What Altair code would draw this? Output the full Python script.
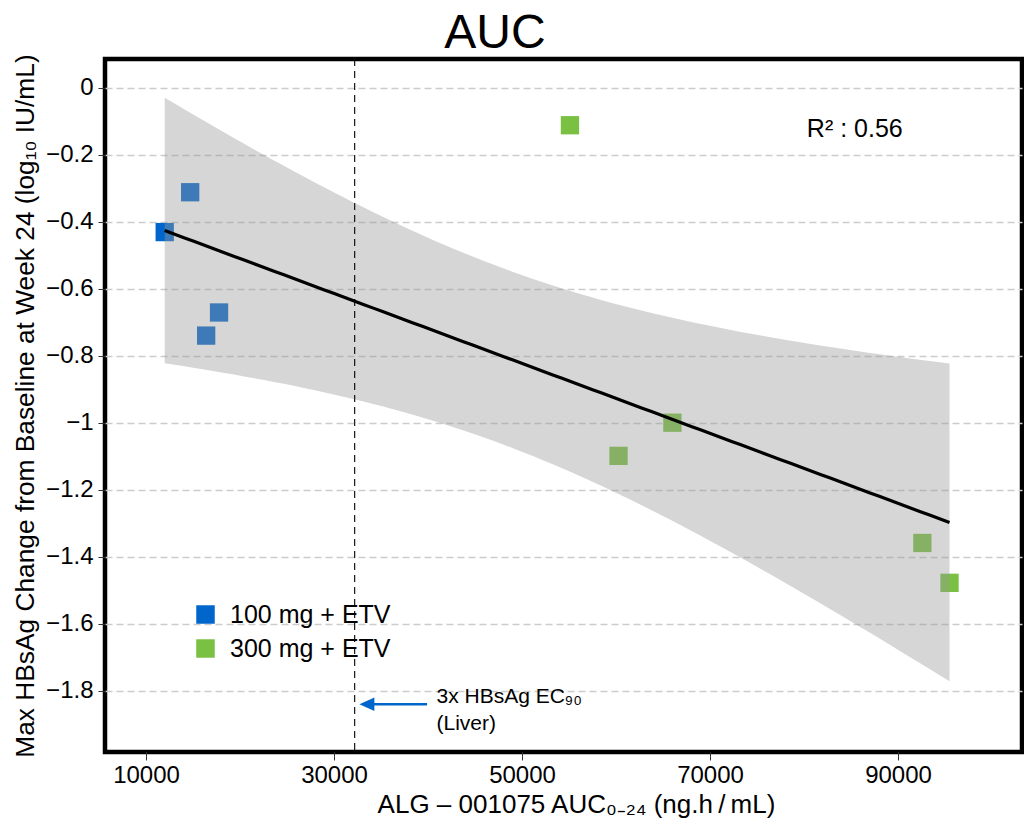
import altair as alt
import numpy as np
import pandas as pd

# ---------------- data ----------------
group_labels = ["100 mg + ETV", "300 mg + ETV"]
group_colors = ["#0066CC", "#7AC143"]

auc_100 = [11990, 14700, 17770, 16400]
chg_100 = [-0.431, -0.312, -0.671, -0.740]
auc_300 = [55100, 66000, 60270, 92590, 95480]
chg_300 = [-0.112, -1.000, -1.099, -1.359, -1.478]

x_ticks = [10000, 30000, 50000, 70000, 90000]
y_ticks = [0, -0.2, -0.4, -0.6, -0.8, -1.0, -1.2, -1.4, -1.6, -1.8]

ec90_auc = [32200]                      # 3x HBsAg EC90 (Liver) reference line
note_text = ["3x HBsAg EC₉₀", " (Liver)"]
note_x = [40900, 40900]
note_y = [-1.838, -1.918]
arrow_x = [33300, 39900]
arrow_tip_x = [32700]
arrow_y = [-1.8406]
r2_pos_x = [80300]
r2_pos_y = [-0.146]

FONT = "Liberation Sans, Arial, sans-serif"
T975_DF7 = 2.364624  # Student t quantile (0.975, 7 df)

# ---------------- tables ----------------
pts = pd.DataFrame({
    "auc": auc_100 + auc_300,
    "chg": chg_100 + chg_300,
    "group": [group_labels[0]] * len(auc_100) + [group_labels[1]] * len(auc_300),
})

# linear fit with 95% confidence band
xv = np.array(pts["auc"], dtype=float)
yv = np.array(pts["chg"], dtype=float)
n = len(xv)
slope, intercept = np.polyfit(xv, yv, 1)
resid = yv - (intercept + slope * xv)
sse = float(np.sum(resid ** 2))
sst = float(np.sum((yv - yv.mean()) ** 2))
r2 = 1 - sse / sst
s = np.sqrt(sse / (n - 2))
sxx = float(np.sum((xv - xv.mean()) ** 2))
grid = np.linspace(xv.min(), xv.max(), 80)
fit = intercept + slope * grid
se = s * np.sqrt(1.0 / n + (grid - xv.mean()) ** 2 / sxx)
band = pd.DataFrame({"auc": grid, "chg": fit,
                     "lo": fit - T975_DF7 * se, "hi": fit + T975_DF7 * se})

notes = pd.DataFrame({"txt": note_text, "auc": note_x, "chg": note_y})
arrow = pd.DataFrame({"auc": [arrow_x[0]], "auc2": [arrow_x[1]], "chg": arrow_y})
tip = pd.DataFrame({"auc": arrow_tip_x, "chg": arrow_y})
vline = pd.DataFrame({"auc": ec90_auc})
r2_df = pd.DataFrame({"auc": r2_pos_x, "chg": r2_pos_y,
                      "txt": [f"R² : {r2:.2f}"]})

# ---------------- scales / axes ----------------
xscale = alt.Scale(domain=[5638, 103191], nice=False, zero=False)
yscale = alt.Scale(domain=[-1.983, 0.0857], nice=False, zero=False)

xaxis = alt.Axis(values=x_ticks, format="d", grid=False, domain=False,
                 tickSize=8, tickColor="#333333", tickWidth=1,
                 labelFontSize=24, labelFont=FONT, labelColor="black",
                 labelPadding=3,
                 title="ALG – 001075 AUC₀₋₂₄ (ng.h\u2009/\u2009mL)",
                 titleFontSize=26, titleFont=FONT, titleFontWeight="normal",
                 titleColor="black", titleX=471, titleY=52,
                 titleBaseline="middle", titleLimit=800)
yaxis = alt.Axis(values=y_ticks, format=".2~f", grid=True,
                 gridColor="#cccccc", gridDash=[7, 4], gridWidth=1.3,
                 domain=False, tickSize=7, tickColor="#333333", tickWidth=1,
                 labelFontSize=24, labelFont=FONT, labelColor="black",
                 labelPadding=5,
                 title="Max HBsAg Change from Baseline at Week 24 (log₁₀  IU/mL)",
                 titleFontSize=26.3, titleFont=FONT, titleFontWeight="normal",
                 titleColor="black", titleX=-80, titleBaseline="middle",
                 titleLimit=800)


def X(field="auc"):
    return alt.X(f"{field}:Q", scale=xscale, axis=xaxis)


def Y(field="chg"):
    return alt.Y(f"{field}:Q", scale=yscale, axis=yaxis)


points = alt.Chart(pts).mark_square(size=335, opacity=1).encode(
    x=X(), y=Y(),
    color=alt.Color("group:N",
                    scale=alt.Scale(domain=group_labels, range=group_colors),
                    legend=alt.Legend(orient="none", legendX=88, legendY=543,
                                      title=None, symbolType="square",
                                      symbolSize=342, symbolStrokeWidth=0,
                                      symbolOpacity=1,
                                      labelFontSize=25, labelFont=FONT,
                                      labelColor="black", labelOffset=12,
                                      labelLimit=400,
                                      rowPadding=8, padding=0,
                                      direction="vertical")),
)

ribbon = alt.Chart(band).mark_area(color="#999999", opacity=0.4).encode(
    x=X(), y=Y("lo"), y2="hi:Q")

fitline = alt.Chart(band).mark_line(color="black", strokeWidth=3.2).encode(
    x=X(), y=Y())

ref = alt.Chart(vline).mark_rule(color="black", strokeWidth=1.1,
                                 strokeDash=[7, 5]).encode(x=X())

arrow_line = alt.Chart(arrow).mark_rule(color="#0066CC", strokeWidth=2.5).encode(
    x=X(), x2="auc2:Q", y=Y())

arrow_head = alt.Chart(tip).mark_point(shape="M0,0L2,-0.9L2,0.9Z", size=225,
                                        filled=True, opacity=1,
                                        color="#0066CC").encode(x=X(), y=Y())

note = alt.Chart(notes).mark_text(align="left", baseline="alphabetic",
                                  fontSize=21, font=FONT, color="black").encode(
    x=X(), y=Y(), text="txt:N")

r2_text = alt.Chart(r2_df).mark_text(align="left", baseline="alphabetic",
                                     fontSize=25, font=FONT, color="black").encode(
    x=X(), y=Y(), text="txt:N")

chart = alt.layer(points, ribbon, fitline, ref, arrow_line, arrow_head,
                  note, r2_text).properties(
    width=917, height=693,
    title=alt.TitleParams("AUC", fontSize=48, font=FONT, fontWeight="normal",
                          color="black", anchor="middle", dx=-68.5, dy=11,
                          offset=3),
    padding={"left": 97, "top": 51, "right": 2, "bottom": 71},
    autosize=alt.AutoSizeParams(type="none"),
).configure_view(stroke="black", strokeWidth=4.5)

chart.save("out.html", embed_options={"renderer": "svg", "actions": False})
